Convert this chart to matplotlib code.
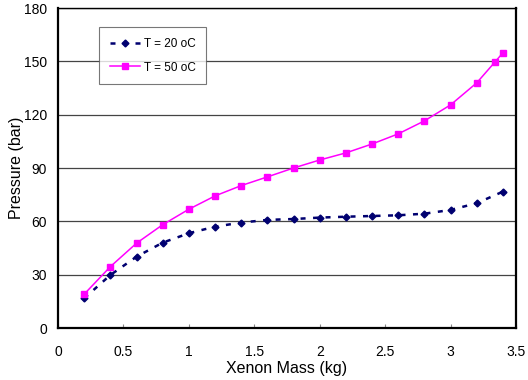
import matplotlib.pyplot as plt

plt.rcParams['font.family'] = ['Liberation Sans', 'DejaVu Sans']

# Xenon mass (kg) and pressure (bar)
mass_20 = [0.2, 0.4, 0.6, 0.8, 1.0, 1.2, 1.4, 1.6, 1.8, 2.0, 2.2, 2.4, 2.6, 2.8, 3.0, 3.2, 3.4]
p_20 = [16.7, 29.8, 40.1, 48.0, 53.3, 57.0, 59.3, 60.8, 61.3, 62.1, 62.6, 63.0, 63.4, 64.3, 66.4, 70.2, 76.7]

mass_50 = [0.2, 0.4, 0.6, 0.8, 1.0, 1.2, 1.4, 1.6, 1.8, 2.0, 2.2, 2.4, 2.6, 2.8, 3.0, 3.2, 3.34, 3.4]
p_50 = [19.0, 34.5, 47.7, 58.1, 66.8, 74.3, 80.1, 85.0, 90.0, 94.5, 98.5, 103.5, 109.2, 116.5, 125.5, 137.9, 149.7, 154.8]

fig = plt.figure(figsize=(5.28, 3.8), dpi=100)
ax = fig.add_axes([58 / 528, 1 - 328 / 380, 458 / 528, 320 / 380])

ax.plot(mass_20, p_20, color='#000070', linestyle=(0, (2, 3)), linewidth=1.8,
        marker='D', markersize=3.5, label='T = 20 oC')
ax.plot(mass_50, p_50, color='#ff00ff', linestyle='-', linewidth=1.1,
        marker='s', markersize=5, label='T = 50 oC')

ax.set_xlim(0, 3.5)
ax.set_ylim(0, 180)
ax.set_xticks([0, 0.5, 1, 1.5, 2, 2.5, 3, 3.5])
ax.set_xticklabels(['0', '0.5', '1', '1.5', '2', '2.5', '3', '3.5'])
ax.set_yticks(range(0, 181, 30))
ax.yaxis.grid(True, color='#444444', linewidth=0.9)
ax.set_axisbelow(True)
ax.tick_params(axis='both', labelsize=10, direction='in', length=3, color='#888888')
ax.tick_params(axis='y', length=0, pad=8)
ax.tick_params(axis='x', pad=12)

for s in ['left', 'bottom', 'right']:
    ax.spines[s].set_linewidth(1.6)
ax.spines['top'].set_linewidth(1.0)

ax.set_xlabel('Xenon Mass (kg)', fontsize=11.5, labelpad=2)
ax.set_ylabel('Pressure (bar)', fontsize=11.5)
ax.yaxis.set_label_coords(-0.074, 0.5)

leg = ax.legend(loc='upper left', bbox_to_anchor=(0.0895, 0.94), borderaxespad=0,
                fontsize=8.5, frameon=True, fancybox=False, edgecolor='#555555',
                handlelength=2.6, borderpad=0.9, labelspacing=1.0, handletextpad=0.3)
leg.get_frame().set_linewidth(0.8)

fig.savefig('out.png', dpi=100)
